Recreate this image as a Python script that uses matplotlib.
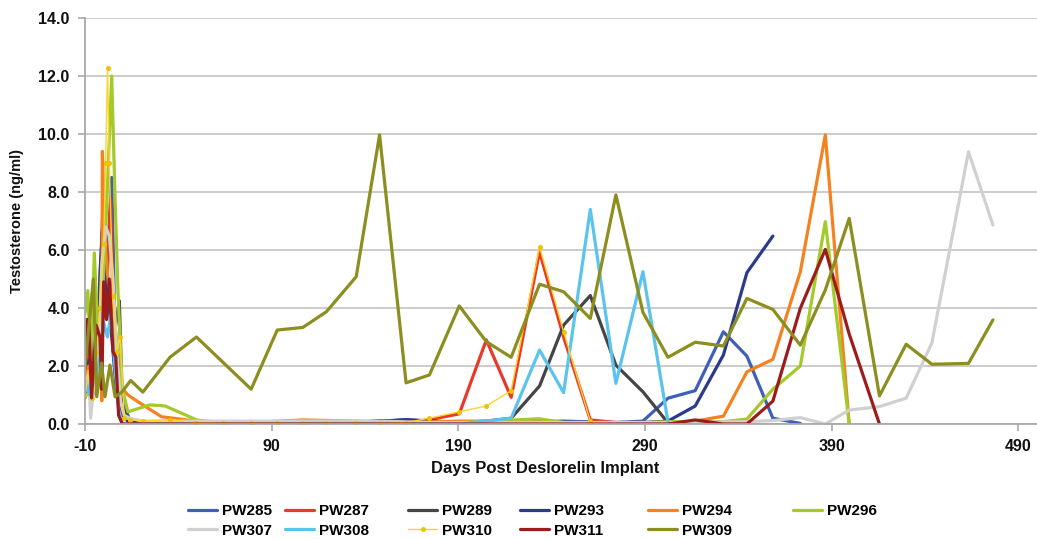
import numpy as np
import matplotlib
matplotlib.use("Agg")
import matplotlib.pyplot as plt
from matplotlib import font_manager as fm

# ---- Testosterone (ng/ml) per animal, by day post implant ----
pw285_days = [-10, -8, -7, -5, -3, -1, 0, 2, 4.3, 6, 8, 10, 14, 21, 35.5, 49.7, 79, 106.7,
              135.3, 162, 190.5, 218.3, 246.4, 274.4, 288.9, 302.3, 316.9, 332, 344.6, 358.5, 373.2]
pw285_vals = [1.0, 2.8, 3.2, 1.4, 2.0, 6.6, 4.0, 5.5, 8.5, 3.5, 1.8, 0.9, 0.1, 0.05, 0.05, 0.05, 0.08, 0.05,
              0.05, 0.14, 0.05, 0.05, 0.1, 0.05, 0.1, 0.89, 1.15, 3.18, 2.34, 0.2, 0.02]

pw287_days = [-10, -8, -6, -4, -2, 0, 2, 3.7, 5, 7, 10, 14, 21, 35.5, 49.7, 79, 106.7, 135.3, 162,
              174.5, 190.5, 205, 218.3, 233.5, 246.4, 260.7, 274.4, 288.9]
pw287_vals = [1.8, 2.5, 1.2, 2.2, 3.5, 4.5, 5.2, 7.76, 4.2, 1.5, 0.3, 0.1, 0.05, 0.05, 0.05, 0.05, 0.1, 0.05, 0.05,
              0.15, 0.35, 2.9, 0.92, 5.94, 3.0, 0.14, 0.05, 0.05]

pw289_days = [-10, -8, -6, -4, -2, 0, 1, 3, 5.5, 8.4, 10, 14, 21, 35.5, 49.7, 79, 106.7, 135.3, 147.8,
              162, 190.5, 205, 218.3, 233.5, 246.4, 260.7, 274.4, 288.9, 300.8]
pw289_vals = [1.6, 1.2, 2.5, 1.0, 5.2, 7.4, 5.5, 4.5, 3.0, 4.25, 0.6, 0.1, 0.05, 0.05, 0.05, 0.05, 0.05, 0.05, 0.12,
              0.05, 0.05, 0.1, 0.2, 1.31, 3.41, 4.43, 2.03, 1.11, 0.16]

pw293_days = [-10, -8, -6, -4, -2, -0.5, 1, 3, 5, 7, 9, 14, 21, 35.5, 49.7, 79, 106.7, 135.3, 162,
              190.5, 218.3, 246.4, 274.4, 288.9, 302.3, 316.9, 332, 344.6, 358.5]
pw293_vals = [0.9, 2.2, 1.0, 2.5, 4.0, 7.38, 5.0, 4.0, 2.5, 1.0, 0.3, 0.05, 0.05, 0.05, 0.05, 0.08, 0.05, 0.05, 0.15,
              0.05, 0.05, 0.05, 0.05, 0.05, 0.1, 0.62, 2.38, 5.22, 6.48]

pw294_days = [-10, -8, -6, -4, -2, -1, -0.7, 0, 1, 3, 5, 7, 9, 13, 19.5, 31, 49.7, 79, 106.7, 135.3,
              162, 190.5, 218.3, 246.4, 274.4, 302.3, 316.9, 332, 344.6, 358.5, 373.2, 386.6, 399.4]
pw294_vals = [1.5, 2.0, 1.2, 2.8, 3.5, 0.8, 9.4, 8.0, 6.0, 4.5, 4.4, 2.2, 1.3, 1.0, 0.72, 0.25, 0.1, 0.05, 0.14, 0.1,
              0.05, 0.1, 0.1, 0.05, 0.05, 0.05, 0.1, 0.27, 1.8, 2.23, 5.25, 9.97, 0.0]

pw296_days = [-10, -8.5, -7, -5, -3, -1, 1, 4.3, 6, 7.7, 10, 13, 24.8, 33, 49.9, 64, 93, 135.3, 190.5,
              233.5, 246.4, 288.9, 302.3, 332, 344.6, 358.5, 373.2, 386.6, 399.4]
pw296_vals = [3.8, 4.6, 2.2, 5.9, 2.8, 4.0, 6.5, 12.0, 8.0, 4.5, 1.2, 0.42, 0.66, 0.62, 0.14, 0.02, 0.02, 0.02, 0.05,
              0.18, 0.05, 0.05, 0.08, 0.08, 0.17, 1.2, 2.0, 6.98, 0.0]

pw307_days = [-10, -8, -7, -5, -3, -1, 1, 3, 5, 7, 9, 11, 14, 21, 35.5, 64, 93, 119.3, 147.8, 175,
              218.3, 260.7, 302.3, 344.6, 358.5, 373.2, 386.6, 399.4, 415.6, 429.9, 443.7, 463.3, 476.4]
pw307_vals = [1.2, 1.8, 0.2, 1.5, 2.0, 5.5, 6.8, 6.5, 5.0, 2.5, 0.8, 0.3, 0.2, 0.1, 0.1, 0.1, 0.1, 0.1, 0.1, 0.05,
              0.05, 0.05, 0.05, 0.08, 0.12, 0.22, 0.0, 0.48, 0.6, 0.89, 2.8, 9.39, 6.86]

pw308_days = [-10, -8, -6, -4, -2, 0, 2, 4, 6, 8, 10, 14, 21, 35.5, 49.7, 79, 93, 106.7, 135.3, 162,
              190.5, 205, 218.3, 233.5, 246.4, 260.7, 274.4, 288.9, 302.3]
pw308_vals = [1.5, 1.0, 2.0, 1.4, 2.3, 3.5, 3.0, 3.8, 2.0, 0.5, 0.0, 0.0, 0.0, 0.0, 0.0, 0.0, 0.0, 0.02, 0.02, 0.02,
              0.0, 0.1, 0.2, 2.55, 1.08, 7.4, 1.4, 5.25, 0.08]

pw310_days = [-10, -8, -6, -4, -2, 0, 1, 2.1, 3, 5, 7, 8.8, 11, 14, 21, 35.5, 49.7, 64, 79, 93, 106.7,
              119.3, 135.3, 147.8, 162, 174.5, 190.5, 205, 218.3, 233.5, 246.4, 260.7]
pw310_vals = [1.0, 1.8, 0.9, 2.5, 4.0, 6.2, 9.0, 12.26, 9.0, 4.4, 2.5, 3.0, 0.2, 0.15, 0.1, 0.15, 0.05, 0.02, 0.02, 0.02, 0.02,
              0.02, 0.02, 0.02, 0.05, 0.2, 0.42, 0.62, 1.15, 6.11, 3.18, 0.1]

pw311_days = [-10, -9, -8, -6.5, -4, -2, -1, 0, 1.5, 3, 5, 6.5, 8, 10, 14, 35.5, 79, 135.3, 190.5, 246.4,
              302.3, 316.9, 332, 344.6, 358.5, 373.2, 386.6, 399.4, 415.6]
pw311_vals = [2.0, 3.6, 3.6, 0.9, 3.4, 3.0, 1.2, 4.9, 3.6, 5.0, 2.5, 2.3, 0.3, 0.0, 0.0, 0.0, 0.0, 0.0, 0.0, 0.0,
              0.0, 0.14, 0.0, 0.0, 0.79, 3.99, 6.02, 3.1, 0.0]

pw309_days = [-10, -5.5, -3.7, -1.1, 0.7, 3.4, 6.1, 9.7, 14.5, 21, 35.5, 49.7, 79, 93, 106.7, 119.3, 135.3,
              147.8, 162, 174.5, 190.5, 205, 218.3, 233.5, 246.4, 260.7, 274.4, 288.9, 302.3, 316.9, 332,
              344.6, 358.5, 373.2, 386.6, 399.4, 415.6, 429.9, 443.7, 463.3, 476.4]
pw309_vals = [1.97, 5.0, 0.94, 2.1, 0.94, 2.03, 0.94, 1.1, 1.5, 1.1, 2.3, 3.0, 1.2, 3.24, 3.33, 3.87, 5.08,
              9.97, 1.42, 1.69, 4.07, 2.84, 2.30, 4.82, 4.56, 3.64, 7.9, 3.85, 2.30, 2.82, 2.69,
              4.33, 3.95, 2.72, 4.62, 7.09, 0.97, 2.75, 2.06, 2.09, 3.59]

x_ticks = [-10, 90, 190, 290, 390, 490]
y_ticks = [0, 2, 4, 6, 8, 10, 12, 14]

# ---- fonts ----
installed = {f.name for f in fm.fontManager.ttflist}
FAM = "Liberation Sans Narrow" if "Liberation Sans Narrow" in installed else "Liberation Sans"
plt.rcParams["font.family"] = [FAM, "DejaVu Sans"]
plt.rcParams["font.weight"] = "bold"
plt.rcParams["axes.unicode_minus"] = False

series = [
    ("PW285", pw285_days, pw285_vals, "#3d5fb8"),
    ("PW287", pw287_days, pw287_vals, "#e8392b"),
    ("PW289", pw289_days, pw289_vals, "#454545"),
    ("PW293", pw293_days, pw293_vals, "#2b3a8c"),
    ("PW294", pw294_days, pw294_vals, "#f5821f"),
    ("PW296", pw296_days, pw296_vals, "#a3c92a"),
    ("PW307", pw307_days, pw307_vals, "#d0d0d0"),
    ("PW308", pw308_days, pw308_vals, "#5bc4ee"),
    ("PW310", pw310_days, pw310_vals, "#ffd42a"),
    ("PW311", pw311_days, pw311_vals, "#9c1c1c"),
    ("PW309", pw309_days, pw309_vals, "#8c8e1f"),
]

W, H = 1037, 539
fig = plt.figure(figsize=(W / 100, H / 100), dpi=100)
ax = fig.add_axes([85 / W, (H - 424) / H, 952 / W, 406 / H])

handles = {}
for name, d, v, col in series:
    if name == "PW310":
        ln, = ax.plot(d, v, color=col, lw=1.0, marker="o", ms=2.6,
                      mfc="#f2c200", mec="#f2c200", solid_joinstyle="round")
    else:
        ln, = ax.plot(d, v, color=col, lw=2.3, solid_joinstyle="round",
                      solid_capstyle="round")
    handles[name] = ln

ax.set_xlim(-10, 500)
ax.set_ylim(0, 14)
ax.set_xticks(x_ticks)
ax.set_xticklabels([str(t) for t in x_ticks])
ax.set_yticks(y_ticks)
ax.set_yticklabels([f"{t:.1f}" for t in y_ticks])
ax.grid(axis="y", color="#c4c4c4", lw=1.2)
ax.set_axisbelow(True)
for s in ("top", "right"):
    ax.spines[s].set_visible(False)
for s in ("left", "bottom"):
    ax.spines[s].set_color("#a8a8a8")
    ax.spines[s].set_linewidth(1.3)
ax.tick_params(axis="both", direction="out", length=5, width=1.2, color="#a8a8a8",
               labelsize=11.5, labelcolor="#111111", pad=6)
for lab in ax.get_xticklabels() + ax.get_yticklabels():
    lab.set_fontweight("bold")

ax.set_ylabel("Testosterone (ng/ml)", fontsize=10.5, fontweight="bold", color="#111111", labelpad=10)
ax.set_xlabel("Days Post Deslorelin Implant", fontsize=12, fontweight="bold", color="#111111")
ax.xaxis.set_label_coords((545 - 85) / 952, (424 - 468) / 406)
ax.xaxis.label.set_va("center")

# legend laid out as two rows of six columns
col_x = [188, 285, 408, 520, 648, 793]
rows = [["PW285", "PW307"], ["PW287", "PW308"], ["PW289", "PW310"],
        ["PW293", "PW311"], ["PW294", "PW309"], ["PW296"]]
for x, names in zip(col_x, rows):
    fig.legend([handles[n] for n in names], names, loc="upper left",
               bbox_to_anchor=(x / W, 1 - 504 / H), frameon=False,
               borderpad=0, borderaxespad=0, handlelength=1.9, handletextpad=0.3,
               labelspacing=0.38, prop={"family": [FAM, "DejaVu Sans"], "weight": "bold", "size": 11})

fig.savefig("out.png", dpi=100, facecolor="white")
